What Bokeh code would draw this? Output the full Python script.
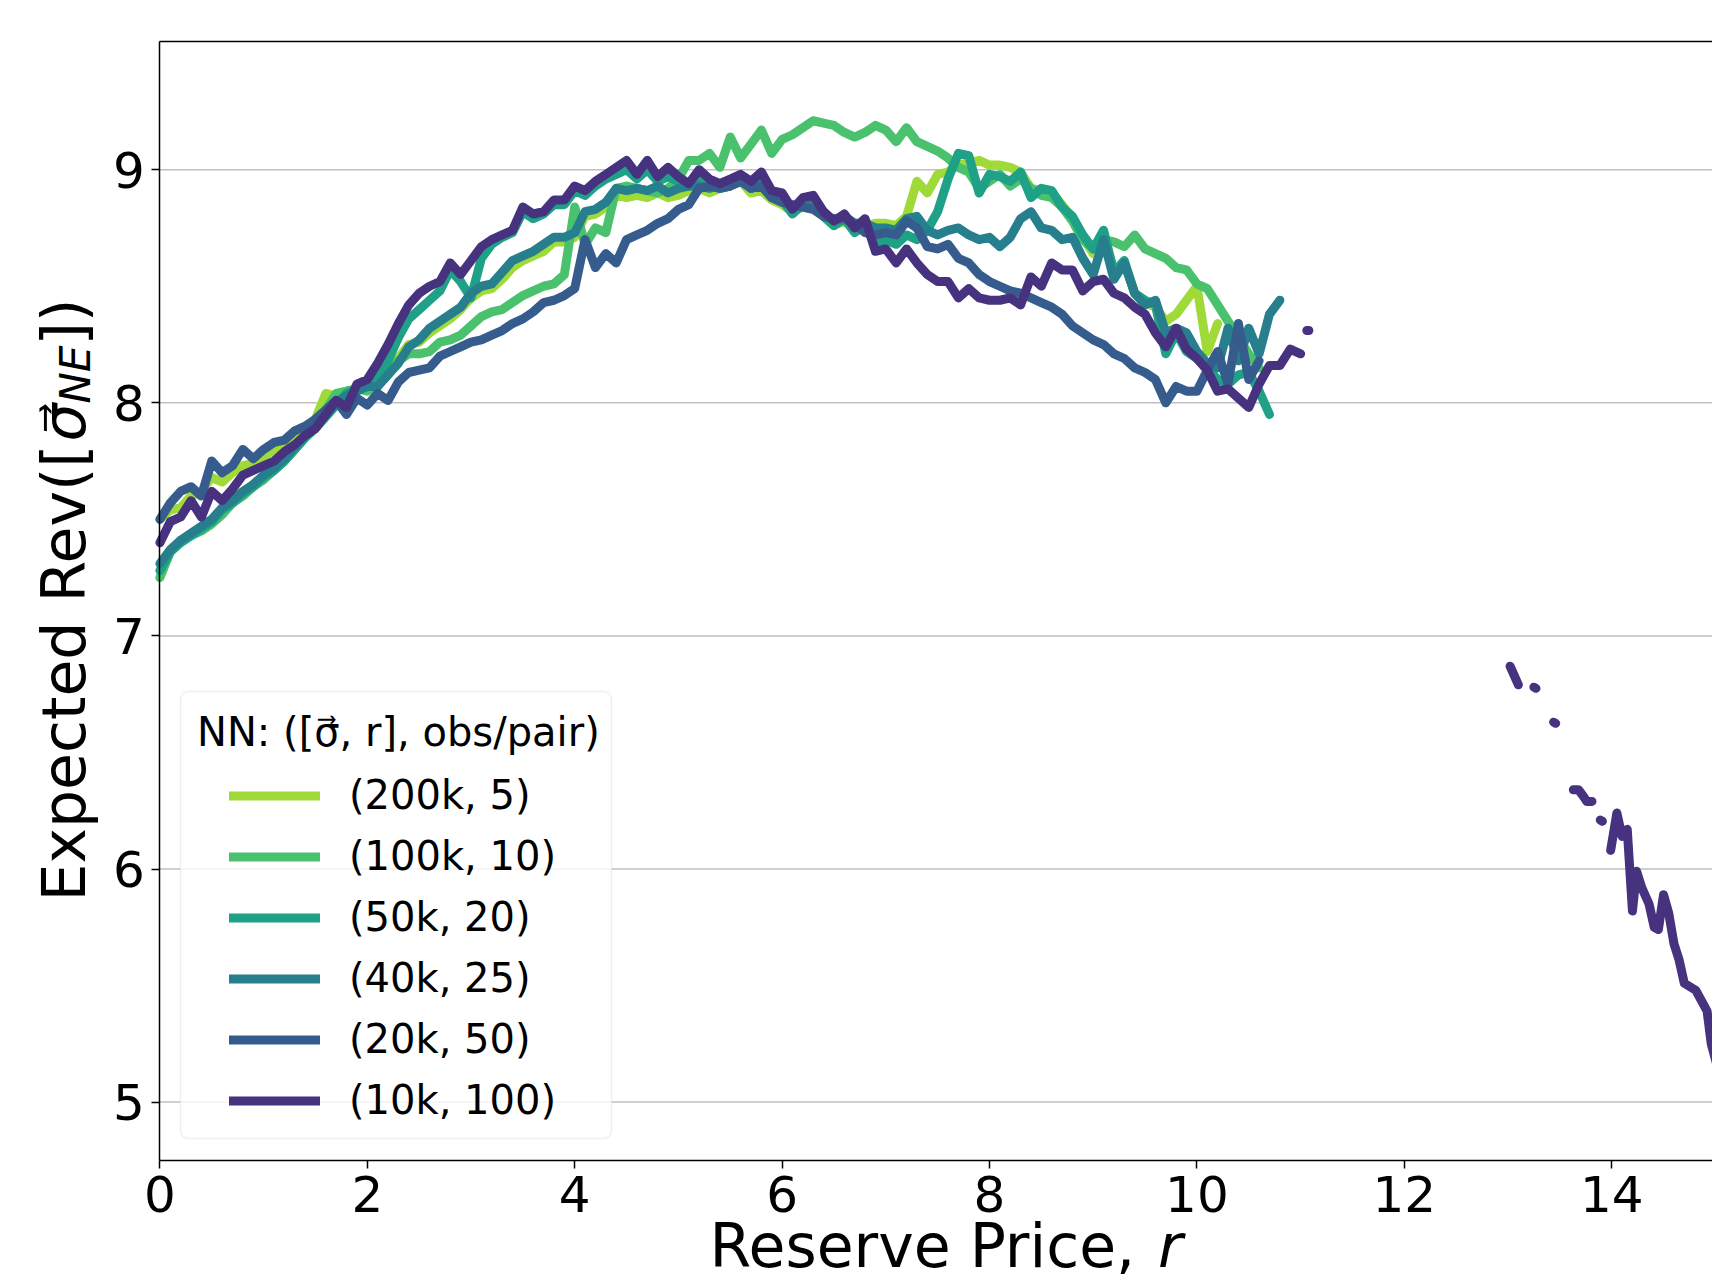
import math
from bokeh.plotting import figure
from bokeh.models import (Range1d, FixedTicker, LinearAxis, Legend, LegendItem,
                          Label, BoxAnnotation)
from bokeh.embed import file_html
from bokeh.resources import INLINE

nan = float("nan")

# ---------------- data ----------------
reserve = [round(0.1 * i, 1) for i in range(111)]   # reserve price grid 0.0 .. 11.0

series_labels = ["(200k, 5)", "(100k, 10)", "(50k, 20)", "(40k, 25)", "(20k, 50)", "(10k, 100)"]
series_colors = ["#a0da39", "#4ac16d", "#1fa187", "#277f8e", "#365c8d", "#46327e"]

rev_200k = [7.50, 7.54, 7.55, 7.60, 7.62, 7.68, 7.66, 7.70, 7.73, 7.74,
            7.77, 7.80, 7.83, 7.86, 7.89, 7.93, 8.04, 8.03, 8.05, 8.06,
            8.07, 8.08, 8.14, 8.19, 8.25, 8.26, 8.30, 8.33, 8.36, 8.40,
            8.45, 8.48, 8.49, 8.53, 8.58, 8.61, 8.63, 8.65, 8.69, 8.69,
            8.71, 8.80, 8.81, 8.84, 8.89, 8.88, 8.89, 8.88, 8.90, 8.88,
            8.89, 8.91, 8.92, 8.90, 8.92, 8.93, 8.95, 8.90, 8.91, 8.87,
            8.85, 8.82, 8.84, 8.83, 8.80, 8.76, 8.78, 8.75, 8.76, 8.77,
            8.77, 8.76, 8.80, 8.95, 8.90, 8.98, 8.99, 9.02, 9.03, 9.04,
            9.02, 9.02, 9.01, 8.99, 8.92, 8.91, 8.90, 8.85, 8.79, 8.71,
            8.64, 8.73, 8.56, 8.60, 8.47, 8.43, 8.41, 8.35, 8.38, 8.44,
            8.50, 8.22, 8.34]

rev_100k = [7.25, 7.36, 7.41, 7.43, 7.45, 7.48, 7.52, 7.57, 7.60, 7.64,
            7.67, 7.71, 7.75, 7.80, 7.85, 7.90, 7.97, 8.04, 8.05, 8.06,
            8.05, 8.08, 8.12, 8.18, 8.21, 8.21, 8.22, 8.26, 8.27, 8.29,
            8.33, 8.37, 8.39, 8.40, 8.43, 8.46, 8.48, 8.50, 8.51, 8.55,
            8.84, 8.68, 8.75, 8.73, 8.92, 8.93, 8.92, 8.91, 8.90, 8.92,
            8.96, 9.04, 9.04, 9.07, 9.01, 9.14, 9.05, 9.11, 9.17, 9.07,
            9.13, 9.15, 9.18, 9.21, 9.20, 9.19, 9.16, 9.14, 9.16, 9.19,
            9.17, 9.12, 9.18, 9.12, 9.10, 9.08, 9.05, 9.01, 8.99, 8.92,
            8.95, 8.98, 8.93, 8.96, 8.92, 8.89, 8.88, 8.84, 8.78, 8.70,
            8.66, 8.70, 8.69, 8.67, 8.72, 8.66, 8.64, 8.62, 8.58, 8.57,
            8.51, 8.49, 8.42, 8.35, 8.28, 8.21, 8.15]

rev_50k = [7.28, 7.36, 7.40, 7.43, 7.46, 7.49, 7.54, 7.57, 7.61, 7.64,
           7.68, 7.71, 7.75, 7.80, 7.85, 7.89, 7.94, 7.99, 8.04, 8.06,
           8.08, 8.10, 8.18, 8.28, 8.36, 8.40, 8.44, 8.48, 8.57, 8.52,
           8.45, 8.62, 8.68, 8.71, 8.73, 8.82, 8.79, 8.81, 8.85, 8.85,
           8.91, 8.89, 8.93, 8.96, 8.98, 9.00, 8.96, 9.00, 8.95, 8.97,
           8.95, 8.93, 8.96, 8.94, 8.92, 8.93, 8.95, 8.93, 8.95, 8.89,
           8.87, 8.81, 8.85, 8.86, 8.80, 8.76, 8.79, 8.73, 8.76, 8.68,
           8.70, 8.68, 8.72, 8.70, 8.74, 8.82, 8.96, 9.07, 9.06, 8.90,
           8.98, 8.97, 8.95, 8.99, 8.88, 8.92, 8.91, 8.84, 8.80, 8.72,
           8.66, 8.74, 8.56, 8.61, 8.47, 8.44, 8.42, 8.21, 8.30, 8.22,
           8.19, 8.15, 8.10, 8.08, 8.12, 8.13, 8.05, 7.95]

rev_40k = [7.31, 7.37, 7.41, 7.44, 7.47, 7.50, 7.55, 7.58, 7.62, 7.65,
           7.69, 7.72, 7.76, 7.81, 7.86, 7.90, 7.95, 8.00, 8.03, 8.05,
           8.07, 8.07, 8.12, 8.17, 8.24, 8.27, 8.32, 8.35, 8.38, 8.41,
           8.47, 8.50, 8.51, 8.56, 8.61, 8.63, 8.65, 8.68, 8.71, 8.71,
           8.73, 8.82, 8.83, 8.86, 8.92, 8.91, 8.92, 8.91, 8.93, 8.90,
           8.92, 8.93, 8.93, 8.92, 8.94, 8.95, 8.96, 8.92, 8.94, 8.89,
           8.87, 8.84, 8.86, 8.85, 8.82, 8.78, 8.80, 8.77, 8.77, 8.75,
           8.75, 8.74, 8.79, 8.80, 8.74, 8.72, 8.74, 8.75, 8.72, 8.70,
           8.71, 8.67, 8.71, 8.79, 8.82, 8.75, 8.74, 8.70, 8.71, 8.62,
           8.55, 8.70, 8.53, 8.60, 8.47, 8.42, 8.44, 8.30, 8.32, 8.30,
           8.22, 8.17, 8.15, 8.32, 8.18, 8.32, 8.21, 8.38, 8.44]

rev_20k = [7.50, 7.57, 7.62, 7.64, 7.60, 7.75, 7.70, 7.73, 7.80, 7.76,
           7.80, 7.83, 7.84, 7.88, 7.90, 7.93, 7.97, 8.01, 7.95, 8.02,
           7.99, 8.04, 8.01, 8.09, 8.13, 8.14, 8.15, 8.20, 8.22, 8.24,
           8.26, 8.27, 8.29, 8.31, 8.34, 8.36, 8.39, 8.43, 8.44, 8.46,
           8.49, 8.70, 8.58, 8.64, 8.60, 8.70, 8.72, 8.74, 8.77, 8.79,
           8.83, 8.85, 8.92, 8.93, 8.92, 8.93, 8.95, 8.92, 8.93, 8.88,
           8.86, 8.85, 8.84, 8.83, 8.80, 8.79, 8.79, 8.77, 8.73, 8.72,
           8.73, 8.72, 8.78, 8.75, 8.67, 8.66, 8.68, 8.62, 8.60, 8.55,
           8.52, 8.50, 8.48, 8.47, 8.45, 8.43, 8.41, 8.38, 8.33, 8.30,
           8.27, 8.25, 8.21, 8.19, 8.15, 8.13, 8.10, 8.00, 8.07, 8.05,
           8.05, 8.14, 8.22, 8.08, 8.34, 8.10, 8.18]

rev_10k = [7.40, 7.49, 7.51, 7.58, 7.51, 7.62, 7.58, 7.63, 7.69, 7.71,
           7.73, 7.75, 7.79, 7.82, 7.86, 7.89, 7.95, 8.01, 7.98, 8.08,
           8.10, 8.17, 8.25, 8.34, 8.42, 8.47, 8.50, 8.52, 8.60, 8.55,
           8.61, 8.67, 8.70, 8.72, 8.74, 8.84, 8.81, 8.82, 8.87, 8.87,
           8.93, 8.91, 8.95, 8.98, 9.01, 9.04, 8.98, 9.04, 8.97, 9.01,
           8.97, 8.94, 9.00, 8.96, 8.94, 8.96, 8.98, 8.95, 8.99, 8.91,
           8.90, 8.83, 8.88, 8.89, 8.82, 8.78, 8.81, 8.75, 8.79, 8.65,
           8.66, 8.60, 8.66, 8.60, 8.55, 8.52, 8.52, 8.45, 8.49, 8.45,
           8.44, 8.44, 8.45, 8.42, 8.54, 8.50, 8.60, 8.57, 8.57, 8.48,
           8.52, 8.53, 8.47, 8.45, 8.41, 8.38, 8.30, 8.24, 8.32, 8.23,
           8.19, 8.14, 8.05, 8.06, 8.02, 7.98, 8.08, 8.16, 8.16, 8.23,
           8.21]

# sparse high-reserve points of the (10k, 100) run (gaps = missing values)
tail_10k_x = [nan, 11.06, 11.08, nan,
              13.02, 13.10, nan, 13.25, 13.27, nan, 13.44, 13.46, nan,
              13.63, 13.68, 13.73, 13.76, 13.81, nan, 13.89, 13.91, nan,
              13.99, 14.05, 14.10, 14.15, 14.20, 14.24, 14.29, 14.36, 14.41,
              14.45, 14.50, 14.55, 14.60, 14.65, 14.70, 14.81, 14.92, 14.96, 15.05]
tail_10k_y = [nan, 8.31, 8.31, nan,
              6.87, 6.79, nan, 6.78, 6.775, nan, 6.63, 6.625, nan,
              6.34, 6.34, 6.31, 6.29, 6.29, nan, 6.21, 6.205, nan,
              6.08, 6.24, 6.14, 6.17, 5.82, 5.99, 5.92, 5.85, 5.75,
              5.74, 5.89, 5.81, 5.68, 5.61, 5.51, 5.48, 5.39, 5.25, 5.10]

x_ticks = [0, 2, 4, 6, 8, 10, 12, 14]
y_ticks = [5, 6, 7, 8, 9]

# ---------------- layout ----------------
FONT = "DejaVu Sans"
W, H = 1712, 1279
PX_PER_X = 103.7          # pixels per reserve-price unit
PX_PER_Y = 233.1          # pixels per revenue unit
AX_LEFT_PX, AX_TOP_PX, AX_BOTTOM_PX = 159.4, 41.0, 1160.0
XMIN_PLOT = 0.0
XMAX_PLOT = (W - AX_LEFT_PX) / PX_PER_X
YMIN_PLOT = 9.0 - (AX_BOTTOM_PX - 169.2) / PX_PER_Y
YMAX_PLOT = 9.0 + (169.2 - AX_TOP_PX) / PX_PER_Y

# the frame covers the whole canvas; the axes sit at fixed positions inside it
XR0 = XMIN_PLOT - AX_LEFT_PX / PX_PER_X
XR1 = XR0 + W / PX_PER_X
YR1 = YMAX_PLOT + AX_TOP_PX / PX_PER_Y
YR0 = YR1 - H / PX_PER_Y

def px_x(X):
    return XR0 + X / PX_PER_X

def px_y(Y):
    return YR1 - Y / PX_PER_Y

p = figure(frame_width=W, frame_height=H,
           x_range=Range1d(XR0, XR1), y_range=Range1d(YR0, YR1),
           output_backend="svg", toolbar_location=None,
           min_border=0, min_border_left=0, min_border_right=0,
           min_border_top=0, min_border_bottom=0,
           x_axis_location=None, y_axis_location=None)
p.outline_line_color = None
p.background_fill_color = "white"
p.border_fill_color = "white"
p.grid.visible = False

def make_axis(ticks, loc, bounds, show_ticks=True):
    ax = LinearAxis(ticker=FixedTicker(ticks=ticks), fixed_location=loc, bounds=bounds)
    ax.axis_line_color = "black"
    ax.axis_line_width = 1.5
    ax.major_tick_line_color = "black" if show_ticks else None
    ax.major_tick_line_width = 1.5
    ax.major_tick_out = 8
    ax.major_tick_in = 0
    ax.minor_tick_line_color = None
    ax.major_label_text_font = FONT
    ax.major_label_text_font_size = "50px" if show_ticks else "0px"
    ax.major_label_text_color = "black"
    ax.major_label_standoff = 7
    ax.axis_label = None
    return ax

p.add_layout(make_axis(x_ticks, YMIN_PLOT, (XMIN_PLOT, XMAX_PLOT)), "below")
p.add_layout(make_axis(y_ticks, XMIN_PLOT, (YMIN_PLOT, YMAX_PLOT)), "left")
p.add_layout(make_axis([], YMAX_PLOT, (XMIN_PLOT, XMAX_PLOT), show_ticks=False), "above")

# horizontal grid lines across the plotting area only
p.segment(x0=[XMIN_PLOT] * len(y_ticks), y0=y_ticks,
          x1=[XMAX_PLOT] * len(y_ticks), y1=y_ticks,
          line_color="#b0b0b0", line_width=1.5, line_alpha=0.8)

all_series = [rev_200k, rev_100k, rev_50k, rev_40k, rev_20k, rev_10k]
renderers = []
for ys, col in zip(all_series, series_colors):
    xs = reserve[:len(ys)]
    ys_full = list(ys)
    if ys is rev_10k:
        xs = xs + tail_10k_x
        ys_full = ys_full + tail_10k_y
    r = p.line(xs, ys_full, line_color=col, line_width=9,
               line_join="round", line_cap="round")
    renderers.append(r)

# legend frame
box = BoxAnnotation(left=px_x(180), right=px_x(611), top=px_y(691), bottom=px_y(1138),
                    fill_color="white", fill_alpha=0.8, line_color="#cccccc",
                    line_width=1.5, border_radius=8)
p.add_layout(box)

legend = Legend(items=[LegendItem(label=lab, renderers=[r]) for lab, r in zip(series_labels, renderers)],
                location=(229, H - 1130.5), orientation="vertical",
                padding=0, margin=0, spacing=0,
                glyph_width=91, glyph_height=61, label_height=61,
                label_standoff=29, label_text_font=FONT, label_text_font_size="40px",
                label_text_color="black", label_text_baseline="middle",
                background_fill_alpha=0, border_line_alpha=0)
p.add_layout(legend)

def label(X, Y, text, size="60px", style="normal", angle=0.0, baseline="alphabetic"):
    return Label(x=px_x(X), y=px_y(Y), text=text, angle=angle,
                 text_font=FONT, text_font_size=size, text_font_style=style,
                 text_color="black", text_align="left", text_baseline=baseline)

# legend title
p.add_layout(label(196.5, 731.5, "NN: ([σ\u20d7, r], obs/pair)", size="40px", baseline="middle"))

# x axis label (kept fully inside the canvas)
XL_BASE = 1245
p.add_layout(label(709, XL_BASE, "Reserve Price, "))
p.add_layout(label(1157.5, XL_BASE, "r", style="italic"))

# y axis label (rotated), with subscript
ang = math.pi / 2
YL_BASE = 63
p.add_layout(label(YL_BASE, 901, "Expected Rev([", angle=ang))
p.add_layout(label(YL_BASE, 441, "σ\u20d7", style="italic", angle=ang))
p.add_layout(label(YL_BASE + 12, 403, "NE", size="42px", style="italic", angle=ang))
p.add_layout(label(YL_BASE, 345, "])", angle=ang))

open("out.html", "w").write(file_html(p, INLINE))
